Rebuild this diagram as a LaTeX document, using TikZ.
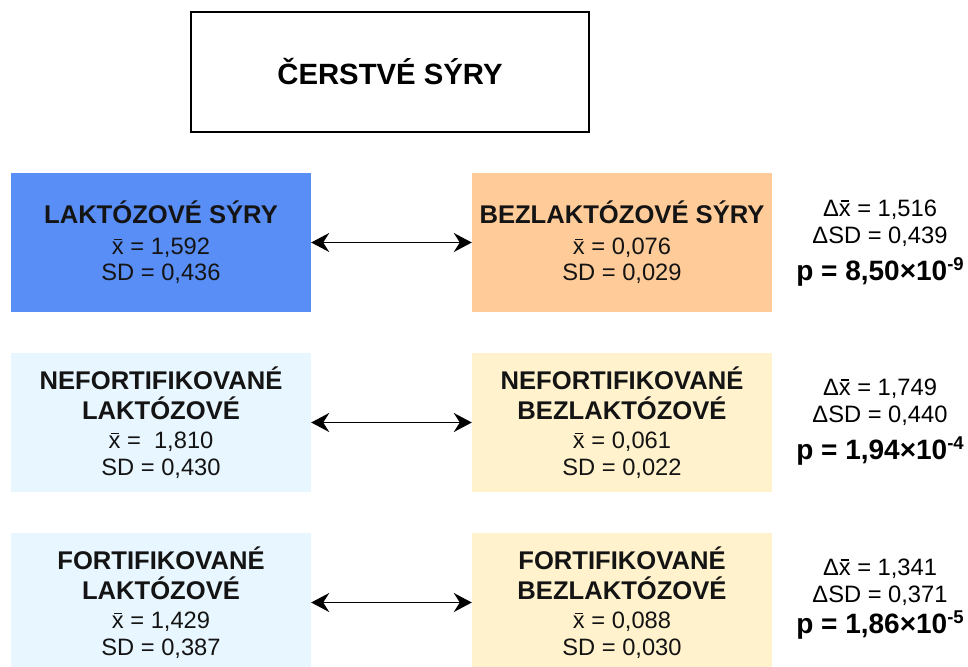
\documentclass[tikz,border=0pt]{standalone}
\usepackage{fontspec}
\setmainfont{Liberation Sans}
\usetikzlibrary{arrows.meta}
\definecolor{blueA}{HTML}{5A8EF7}
\definecolor{peachA}{HTML}{FFCC99}
\definecolor{lblue}{HTML}{E8F6FF}
\definecolor{lyellow}{HTML}{FFF2CC}
\newcommand\xb{\makebox[0pt][l]{\hspace{0.09em}\raisebox{0.6em}{\rule{0.33em}{0.065em}}}x}
\newcommand\bfl[1]{{\fontsize{25.6}{27.5}\selectfont\bfseries #1}}
\tikzset{
  databox/.style={minimum width=300pt, minimum height=139pt, inner sep=0pt, align=center,
    font=\fontsize{23.7}{27.5}\selectfont, text=black!92},
  reglab/.style={anchor=base, inner sep=0pt, font=\fontsize{23.7}{27.5}\selectfont},
  plab/.style={anchor=base, inner sep=0pt, font=\fontsize{28}{30}\selectfont\bfseries},
  dblarrow/.style={{Stealth[length=18pt,width=19pt,inset=6pt]}-{Stealth[length=18pt,width=19pt,inset=6pt]}}
}
\newcommand\pexp[1]{\raisebox{10pt}{\fontsize{18.5}{19}\selectfont #1}}
\begin{document}
\begin{tikzpicture}[x=1pt,y=-1pt]
\useasboundingbox (0,0) rectangle (968,666);
\fill[white] (0,0) rectangle (968,666);
% title
\node[draw=black, line width=2pt, minimum width=398pt, minimum height=120pt, inner sep=0pt,
  font=\fontsize{29.3}{32}\selectfont\bfseries] (title) at (390,72) {ČERSTVÉ SÝRY};
% row 1
\node[databox, fill=blueA] (l1) at (161,242.5) {\bfl{LAKTÓZOVÉ SÝRY}\\[3pt] \xb{} = 1,592\\[-1pt] SD = 0,436};
\node[databox, fill=peachA] (r1) at (622,242.5) {\bfl{BEZLAKTÓZOVÉ SÝRY}\\[3pt] \xb{} = 0,076\\[-1pt] SD = 0,029};
\draw[dblarrow, line width=1.4pt] (l1.east) -- (r1.west);
\node[reglab] (d1a) at (880,216) {Δ\xb{} = 1,516};
\node[reglab] (d1b) at (880,243) {ΔSD = 0,439};
\node[plab] (d1p) at (880,280) {p = 8,50×10\pexp{-9}};
% row 2
\node[databox, fill=lblue] (l2) at (161,422.5) {\bfl{NEFORTIFIKOVANÉ}\\[2.5pt] \bfl{LAKTÓZOVÉ}\\[2pt] \xb{} = \ 1,810\\[-0.5pt] SD = 0,430};
\node[databox, fill=lyellow] (r2) at (622,422.5) {\bfl{NEFORTIFIKOVANÉ}\\[2.5pt] \bfl{BEZLAKTÓZOVÉ}\\[2pt] \xb{} = 0,061\\[-0.5pt] SD = 0,022};
\draw[dblarrow, line width=1.9pt] (l2.east) -- (r2.west);
\node[reglab] (d2a) at (880,395) {Δ\xb{} = 1,749};
\node[reglab] (d2b) at (880,422) {ΔSD = 0,440};
\node[plab] (d2p) at (880,459) {p = 1,94×10\pexp{-4}};
% row 3
\node[databox, fill=lblue] (l3) at (161,602.5) {\bfl{FORTIFIKOVANÉ}\\[2.5pt] \bfl{LAKTÓZOVÉ}\\[2pt] \xb{} = 1,429\\[-0.5pt] SD = 0,387};
\node[databox, fill=lyellow] (r3) at (622,602.5) {\bfl{FORTIFIKOVANÉ}\\[2.5pt] \bfl{BEZLAKTÓZOVÉ}\\[2pt] \xb{} = 0,088\\[-0.5pt] SD = 0,030};
\draw[dblarrow, line width=1.9pt] (l3.east) -- (r3.west);
\node[reglab] (d3a) at (880,575) {Δ\xb{} = 1,341};
\node[reglab] (d3b) at (880,602) {ΔSD = 0,371};
\node[plab] (d3p) at (880,633) {p = 1,86×10\pexp{-5}};
\end{tikzpicture}
\end{document}
